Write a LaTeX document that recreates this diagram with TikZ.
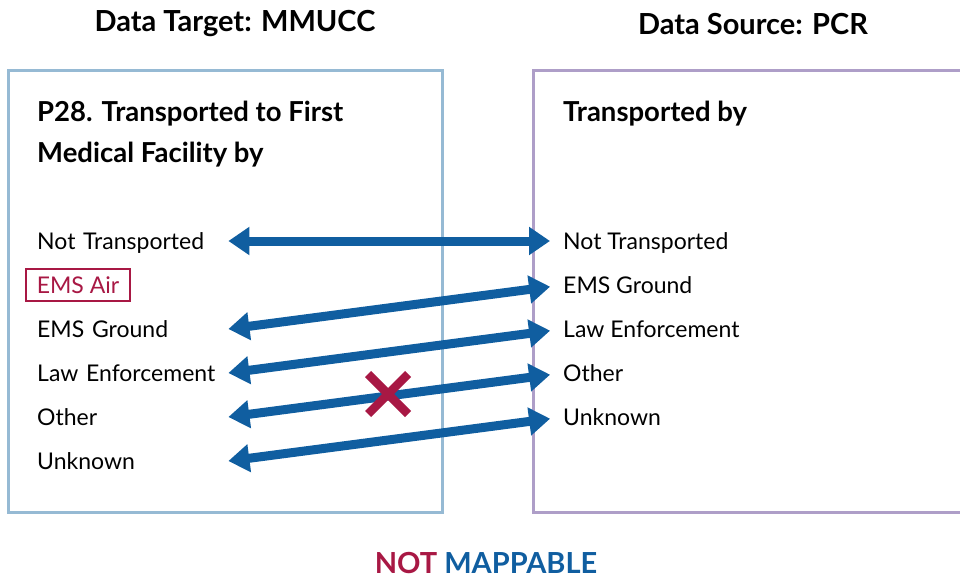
\documentclass[tikz,border=0pt]{standalone}
\usepackage{fontspec}
\setmainfont{Lato}
\usetikzlibrary{arrows.meta,positioning}

\definecolor{targetblue}{RGB}{150,186,212}
\definecolor{sourcepurple}{RGB}{174,158,200}
\definecolor{maparrow}{RGB}{16,94,160}
\definecolor{nomap}{RGB}{168,24,68}

\tikzset{
  item/.style={anchor=west, inner sep=0pt, text height=16pt, text depth=0pt,
    font=\fontsize{23}{26}\selectfont},
  litem/.style={item, text width=191pt},
  heading/.style={anchor=base west, inner sep=0pt, font=\fontsize{27.5}{32}\selectfont\bfseries},
  title/.style={inner sep=0pt, font=\fontsize{29}{33}\selectfont\bfseries},
  map/.style={draw=maparrow, line width=9pt,
    {Triangle[length=21pt,width=27pt]}-{Triangle[length=21pt,width=27pt]}, shorten >=13pt},
}

\begin{document}
\begin{tikzpicture}[x=1pt, y=-1pt]
  \useasboundingbox (0,0) rectangle (960,578);

  % the two boxes
  \draw[targetblue, line width=3pt] (8,70) rectangle (442,512);
  \draw[sourcepurple, line width=3pt] (533,70) rectangle (980,512);

  \node[title] (ttarget) at (235,24) {Data Target: MMUCC};
  \node[title] (tsource) at (753,24) {Data Source: PCR};

  \node[heading] (hleft1) at (37,121) {P28. Transported to First};
  \node[heading] (hleft2) at (37,162) {Medical Facility by};
  \node[heading] (hright) at (563,121) {Transported by};

  % left values
  \node[litem] (lnot) at (37,241) {Not Transported};
  \node[item, draw=nomap, line width=1.6pt, inner xsep=11pt, inner ysep=8pt, text=nomap] (lair) at (25,285) {EMS Air};
  \node[litem] (lground) at (37,329) {EMS Ground};
  \node[litem] (llaw) at (37,373) {Law Enforcement};
  \node[litem] (lother) at (37,417) {Other};
  \node[litem] (lunk) at (37,461) {Unknown};

  % right values
  \node[item] (rnot) at (563,241) {Not Transported};
  \node[item] (rground) at (563,285) {EMS Ground};
  \node[item] (rlaw) at (563,329) {Law Enforcement};
  \node[item] (rother) at (563,373) {Other};
  \node[item] (runk) at (563,417) {Unknown};

  \draw[map] (lnot.east) -- (rnot.west);
  \draw[map] (lground.east) -- (rground.west);
  \draw[map] (llaw.east) -- (rlaw.west);
  \draw[map] (lother.east) -- (rother.west);
  \draw[map] (lunk.east) -- (runk.west);

  % cross over the Other mapping
  \coordinate (xmark) at (388,394);
  \draw[nomap, line width=8.5pt] ([shift={(-20,-20)}]xmark) -- ([shift={(20,20)}]xmark);
  \draw[nomap, line width=8.5pt] ([shift={(-20,20)}]xmark) -- ([shift={(20,-20)}]xmark);

  \node[title] (verdict) at (486,563) {\textcolor{nomap}{NOT} \textcolor{maparrow}{MAPPABLE}};
\end{tikzpicture}
\end{document}
